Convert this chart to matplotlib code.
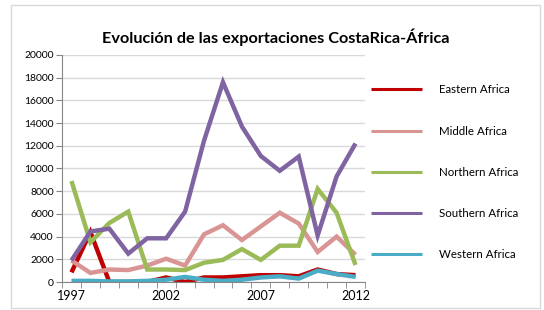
import matplotlib
matplotlib.use('Agg')
import matplotlib.pyplot as plt
from matplotlib.patches import Rectangle
from matplotlib.ticker import MultipleLocator

YEARS = list(range(1997, 2013))

EASTERN = [850, 4400, 0, 0, 0, 400, 0, 400, 400, 500, 600, 600, 500, 1100, 700, 600]
MIDDLE = [1900, 800, 1100, 1050, 1450, 2050, 1450, 4200, 5000, 3700, 4900, 6100, 5150, 2650, 4000, 2400]
NORTHERN = [8900, 3500, 5200, 6200, 1100, 1100, 1050, 1700, 1950, 2900, 1950, 3200, 3200, 8200, 6100, 1500]
SOUTHERN = [1900, 4450, 4700, 2500, 3850, 3850, 6200, 12450, 17600, 13700, 11100, 9800, 11050, 4100, 9300, 12200]
WESTERN = [100, 100, 50, 50, 100, 200, 450, 200, 100, 200, 400, 500, 300, 1000, 700, 450]

SERIES_NAMES = ['Eastern Africa', 'Middle Africa', 'Northern Africa', 'Southern Africa', 'Western Africa']
SERIES_COLORS = ['#C00000', '#D99594', '#9BBB59', '#8064A2', '#4BACC6']

TITLE = 'Evolución de las exportaciones CostaRica-África'
X_LABELS = [1997, 2002, 2007, 2012]

plt.rcParams['font.family'] = ['Lato', 'DejaVu Sans']

def main():
    fig = plt.figure(figsize=(5.44, 3.10), dpi=100)
    fig.patches.append(Rectangle((11 / 544, 2 / 310), 529 / 544, 303 / 310,
                                 transform=fig.transFigure, fill=False,
                                 edgecolor='#d9d9d9', linewidth=1))
    ax = fig.add_axes([62 / 544, 28 / 310, 303 / 544, 227 / 310])

    allSeries = [EASTERN, MIDDLE, NORTHERN, SOUTHERN, WESTERN]
    for values, name, color in zip(allSeries, SERIES_NAMES, SERIES_COLORS):
        ax.plot(YEARS, values, color=color, linewidth=3.2, label=name,
                solid_joinstyle='miter', solid_capstyle='butt')

    ax.set_xlim(YEARS[0] - 0.5, YEARS[-1] + 0.5)
    ax.set_ylim(0, 20000)
    ax.yaxis.set_major_locator(MultipleLocator(2000))
    ax.grid(axis='y', color='#d9d9d9', linewidth=1)
    ax.set_axisbelow(True)

    ax.set_xticks(X_LABELS)
    ax.set_xticklabels([str(x) for x in X_LABELS])
    ax.set_xticks([y - 0.5 for y in YEARS] + [YEARS[-1] + 0.5], minor=True)
    ax.tick_params(axis='x', which='major', length=0, pad=6, labelsize=9)
    ax.tick_params(axis='x', which='minor', length=4, color='#868686')
    ax.tick_params(axis='y', length=4, color='#868686', labelsize=7.5, pad=2)

    for side in ['top', 'right']:
        ax.spines[side].set_visible(False)
    for side in ['left', 'bottom']:
        ax.spines[side].set_color('#868686')

    ax.set_title(TITLE, fontsize=11.7, fontweight='bold', pad=9, x=0.705)

    ax.legend(loc='upper left', bbox_to_anchor=(361 / 544, 236 / 310),
              bbox_transform=fig.transFigure, frameon=False, fontsize=8.3,
              handlelength=4.4, handletextpad=1.5, labelspacing=2.62)
    for line in ax.get_legend().get_lines():
        line.set_linewidth(2.2)

    fig.savefig('out.png', dpi=100)

main()
